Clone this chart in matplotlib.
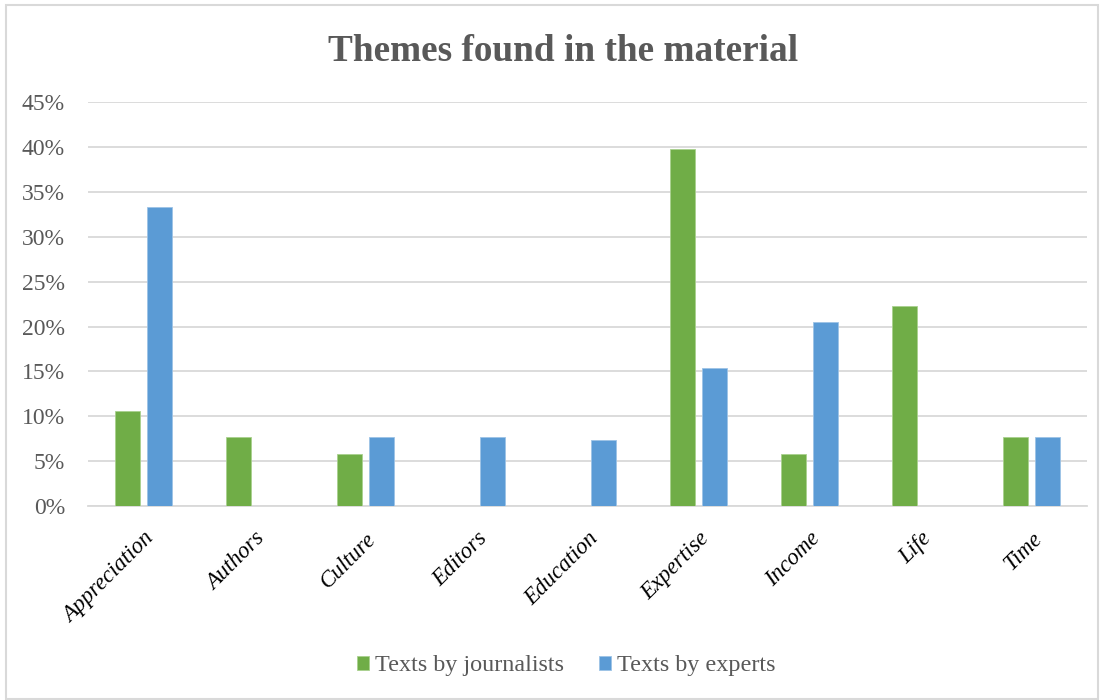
import matplotlib.pyplot as plt
from matplotlib.patches import Rectangle
from matplotlib.ticker import PercentFormatter
import numpy as np

# Share of texts in which each theme appears (%)
themes = ['Appreciation', 'Authors', 'Culture', 'Editors', 'Education',
          'Expertise', 'Income', 'Life', 'Time']
journalists = [10.6, 7.7, 5.8, 0, 0, 39.8, 5.8, 22.3, 7.7]
experts = [33.3, 0, 7.7, 7.7, 7.4, 15.4, 20.5, 0, 7.7]

green = '#70AD47'
blue = '#5B9BD5'
grey_text = '#595959'
grid_col = '#D9D9D9'

plt.rcParams['font.family'] = ['Liberation Serif', 'DejaVu Serif']

fig = plt.figure(figsize=(11.04, 7.0), dpi=100)
ax = fig.add_axes([0.0797, 0.277, 0.905, 0.577])

x = np.arange(len(themes))
w = 0.22
off = 0.145
ax.bar(x - off, journalists, w, color=green, edgecolor='#A9D18E', linewidth=0.6,
       label='Texts by journalists', zorder=3)
ax.bar(x + off, experts, w, color=blue, edgecolor='#9DC3E6', linewidth=0.6,
       label='Texts by experts', zorder=3)

ax.set_xlim(-0.5, len(themes) - 0.5)
ax.set_ylim(0, 45)
ax.set_yticks(np.arange(0, 46, 5))
ax.yaxis.set_major_formatter(PercentFormatter(decimals=0))
ax.grid(axis='y', color=grid_col, linewidth=1.3, zorder=0)
for s in ['top', 'right', 'left']:
    ax.spines[s].set_visible(False)
ax.spines['bottom'].set_color(grid_col)
ax.spines['bottom'].set_linewidth(1.3)
ax.tick_params(axis='y', length=0, pad=16.5, labelsize=17, labelcolor=grey_text)
ax.tick_params(axis='x', length=0, pad=16)

ax.set_xticks(x)
ax.set_xticklabels(themes, rotation=45, ha='right', rotation_mode='anchor',
                   fontsize=16.5, fontstyle='italic', color='#000000')

fig.text(563 / 1104, 1 - 61 / 700, 'Themes found in the material', fontsize=26.8,
         fontweight='bold', color=grey_text, ha='center', va='baseline')

leg = fig.legend(loc='center', bbox_to_anchor=(566 / 1104, 1 - 666 / 700), ncol=2,
                 frameon=False, fontsize=17.4, handlelength=0.5, handleheight=0.5,
                 handletextpad=0.25, columnspacing=1.45)
for t in leg.get_texts():
    t.set_color(grey_text)

# chart border
fig.patches.append(Rectangle((6 / 1104, 1 / 700), 1092 / 1104, 694 / 700,
                             transform=fig.transFigure, fill=False,
                             edgecolor=grid_col, linewidth=1.5))

fig.savefig('out.png', dpi=100)
